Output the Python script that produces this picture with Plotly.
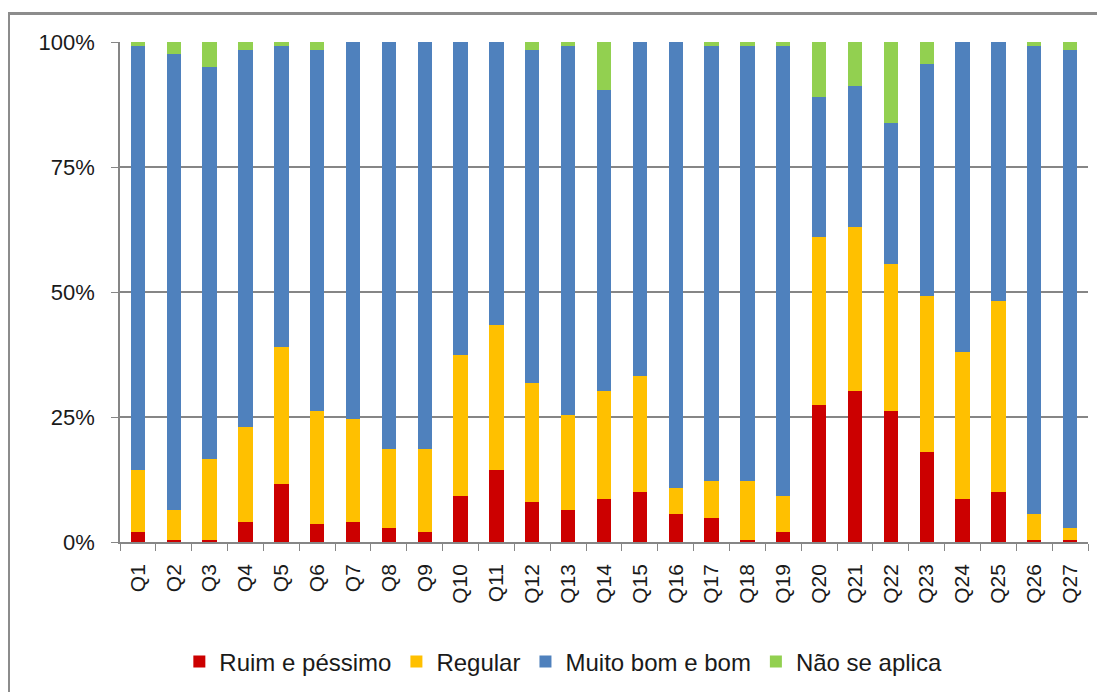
import plotly.graph_objects as go

categories = [f"Q{i}" for i in range(1, 28)]

ruim = [2.1, 0.5, 0.5, 4.1, 11.6, 3.7, 4.1, 2.9, 2.1, 9.2, 14.4, 8.0, 6.5, 8.6,
        10.0, 5.7, 4.9, 0.5, 2.1, 27.4, 30.2, 26.2, 18.0, 8.6, 10.0, 0.5, 0.5]
regular = [12.3, 6.0, 16.1, 18.9, 27.4, 22.5, 20.5, 15.7, 16.5, 28.2, 29.1, 23.8, 18.9, 21.6,
           23.2, 5.1, 7.3, 11.7, 7.1, 33.6, 32.8, 29.5, 31.2, 29.5, 38.3, 5.2, 2.4]
muito_bom = [84.9, 91.2, 78.4, 75.5, 60.3, 72.3, 75.4, 81.4, 81.4, 62.6, 56.5, 66.7, 73.9, 60.3,
             66.8, 89.2, 87.1, 87.1, 90.1, 28.1, 28.3, 28.2, 46.5, 61.9, 51.7, 93.6, 95.6]
nao_aplica = [0.7, 2.3, 5.0, 1.5, 0.7, 1.5, 0.0, 0.0, 0.0, 0.0, 0.0, 1.5, 0.7, 9.5,
              0.0, 0.0, 0.7, 0.7, 0.7, 10.9, 8.7, 16.1, 4.3, 0.0, 0.0, 0.7, 1.5]

y_tick_values = [0, 25, 50, 75, 100]
y_tick_labels = ["0%", "25%", "50%", "75%", "100%"]

series = [
    ("Ruim e péssimo", ruim, "#CC0000"),
    ("Regular", regular, "#FFC000"),
    ("Muito bom e bom", muito_bom, "#4F81BD"),
    ("Não se aplica", nao_aplica, "#92D050"),
]

FONT = "Liberation Sans Narrow, Liberation Sans, Arial, sans-serif"
GRID = "#868686"

# page body has an 8px margin; plot area in page: x 120..1088, y 42..542
L, T, R, B = 112, 34, 25, 158
PW, PH = 1105 - L - R, 692 - T - B

fig = go.Figure()
for name, vals, color in series:
    fig.add_trace(go.Bar(x=categories, y=vals, name=name, marker=dict(color=color, line=dict(width=0))))

fig.update_layout(
    barmode="stack",
    bargap=0.6,
    width=1105,
    height=692,
    paper_bgcolor="white",
    plot_bgcolor="white",
    margin=dict(l=L, r=R, t=T, b=B, autoexpand=False),
    font=dict(family=FONT, size=22, color="#1a1a1a"),
    showlegend=True,
    legend=dict(orientation="h", x=0.458, xanchor="center", y=-0.24, yanchor="middle",
                font=dict(size=24), traceorder="normal", itemwidth=30),
    xaxis=dict(
        tickangle=-90,
        automargin=False,
        showline=True, linecolor=GRID, linewidth=1.5,
        ticks="outside", ticklen=7, tickcolor=GRID, tickson="boundaries",
        showgrid=False,
        ticklabelstandoff=12,
        tickfont=dict(size=21),
    ),
    yaxis=dict(
        range=[0, 100],
        automargin=False,
        tickmode="array",
        tickvals=y_tick_values,
        ticktext=y_tick_labels,
        showline=True, linecolor=GRID, linewidth=1.5,
        ticks="outside", ticklen=7, tickcolor=GRID,
        ticklabelstandoff=12,
        showgrid=True, gridcolor=GRID, gridwidth=1.5,
        zeroline=False,
        tickfont=dict(size=22),
    ),
    shapes=[dict(type="rect", xref="paper", yref="paper",
                 x0=(0.5 - L) / PW, x1=(1110 - L) / PW,
                 y0=-(700 - (T + PH)) / PH, y1=1 + (T - 5.5) / PH,
                 line=dict(color="#8c8c8c", width=3), layer="below")],
)

fig.write_html("out.html")
